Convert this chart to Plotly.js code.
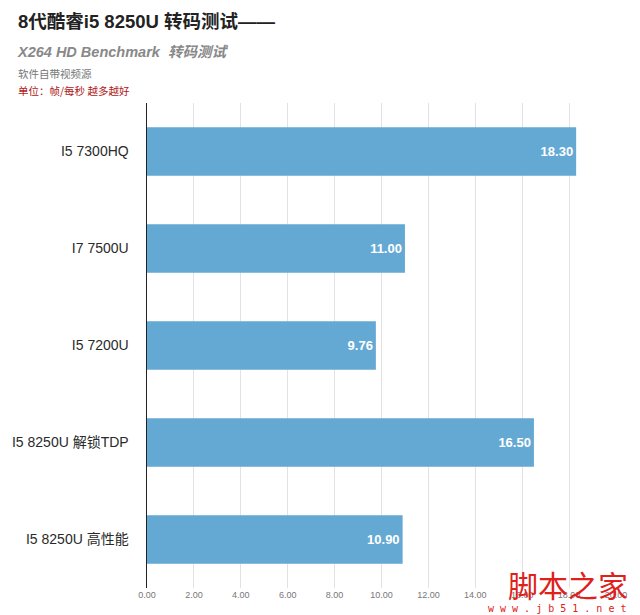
<!DOCTYPE html>
<html><head><meta charset="utf-8">
<script src="https://cdn.plot.ly/plotly-3.0.1.min.js"></script>
<style>html,body{margin:0;padding:0;background:#fff}#chart{width:640px;height:615px}</style>
</head><body><div id="chart"></div>
<script>
const categories = ["I5 7300HQ", "I7 7500U", "I5 7200U", "I5 8250U 解锁TDP", "I5 8250U 高性能"];
const values = [18.30, 11.00, 9.76, 16.50, 10.90];
const tickValues = [0, 2, 4, 6, 8, 10, 12, 14, 16, 18, 20];
const tickLabels = ["0.00", "2.00", "4.00", "6.00", "8.00", "10.00", "12.00", "14.00", "16.00", "18.00", "20.00"];

const F = '"Liberation Sans", "Noto Sans CJK SC", Arial, sans-serif';
const trace = {
  type: 'bar', orientation: 'h',
  x: values, y: categories,
  marker: {color: '#64a9d3'},
  text: values.map(v => v.toFixed(2)),
  textposition: 'inside', insidetextanchor: 'end',
  textfont: {color: '#ffffff', size: 13, family: '"Liberation Sans", Arial, sans-serif', weight: 'bold'},
  hoverinfo: 'none'
};
const layout = {
  width: 640, height: 615,
  margin: {l: 147, r: 24, t: 103, b: 27},
  paper_bgcolor: '#ffffff', plot_bgcolor: '#ffffff',
  bargap: 0.5,
  showlegend: false,
  font: {family: F},
  xaxis: {
    range: [0, 20], tickvals: tickValues, ticktext: tickLabels,
    showgrid: true, gridcolor: '#e2e2e2', gridwidth: 1,
    zeroline: false, showline: false,
    ticks: '', tickfont: {size: 9, color: '#777', family: '"Liberation Sans", Arial, sans-serif'},
    fixedrange: true
  },
  yaxis: {
    autorange: 'reversed', showline: true, linecolor: '#222', linewidth: 1.5,
    showgrid: false, ticks: '', ticklabelstandoff: 14,
    tickfont: {size: 14, color: '#2a2a2a', family: F},
    fixedrange: true
  },
  annotations: [
    {text: '<b>8代酷睿i5 8250U 转码测试——</b>', xref: 'paper', yref: 'paper', x: -131/469, y: 1 + 81/485, xanchor: 'left', yanchor: 'middle', showarrow: false, font: {size: 18.5, color: '#222', family: F}},
    {text: '<b><i>X264 HD Benchmark  转码测试</i></b>', xref: 'paper', yref: 'paper', x: -132/469, y: 1 + 51/485, xanchor: 'left', yanchor: 'middle', showarrow: false, font: {size: 14.5, color: '#888', family: F}},
    {text: '软件自带视频源', xref: 'paper', yref: 'paper', x: -131/469, y: 1 + 30/485, xanchor: 'left', yanchor: 'middle', showarrow: false, font: {size: 10.5, color: '#777', family: '"Noto Sans CJK SC", sans-serif'}},
    {text: '单位：帧/每秒 越多越好', xref: 'paper', yref: 'paper', x: -131/469, y: 1 + 13/485, xanchor: 'left', yanchor: 'middle', showarrow: false, font: {size: 10.5, color: '#b01818', family: '"Noto Sans CJK SC", sans-serif'}},
    {text: '脚本之家', xref: 'paper', yref: 'paper', x: 1 + 14/469, y: 4/485, xanchor: 'right', yanchor: 'middle', showarrow: false, font: {size: 30, color: '#e0201a', family: '"Noto Sans CJK SC", sans-serif'}},
    {text: 'w w w . j b 5 1 . n e t', xref: 'paper', yref: 'paper', x: 1 + 12/469, y: -20/485, xanchor: 'right', yanchor: 'middle', showarrow: false, font: {size: 10, color: '#e0201a', family: '"DejaVu Sans Mono", monospace'}}
  ]
};
Plotly.newPlot('chart', [trace], layout, {displayModeBar: false, staticPlot: true});
</script></body></html>
